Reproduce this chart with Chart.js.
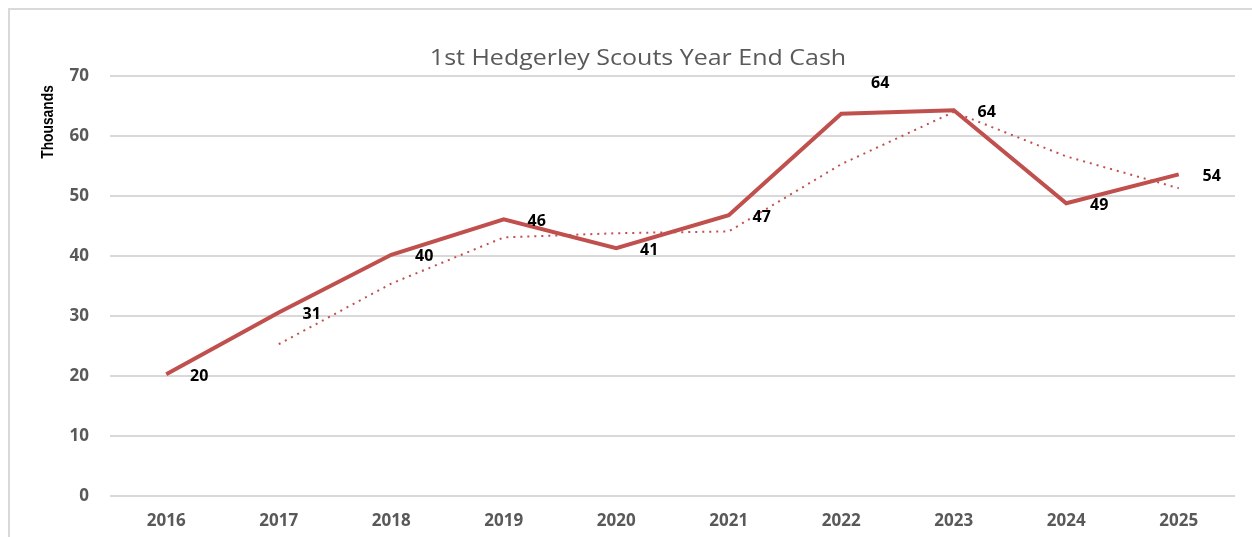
<!DOCTYPE html>
<html>
<head>
<meta charset="utf-8">
<script src="https://cdn.jsdelivr.net/npm/chart.js@4.4.1/dist/chart.umd.min.js"></script>
<style>
body{margin:0;background:#fff;}
#wrap{width:1252px;height:537px;position:relative;}
</style>
</head>
<body>
<div id="wrap"><canvas id="canvas"></canvas></div>
<script>
const years=["2016","2017","2018","2019","2020","2021","2022","2023","2024","2025"];
const cash=[20.3,30.6,40.2,46.1,41.3,46.8,63.7,64.3,48.8,53.6];
const trend=[null,25.3,35.4,43.1,43.8,44.1,55.3,64.0,56.6,51.3];
const yTicks=[0,10,20,30,40,50,60,70];
const chartTitle="1st Hedgerley Scouts Year End Cash";

const lineColor="#C0504D";

// border, title, y axis title and the value labels
const extras={
    id:"extras",
    beforeDraw(chart){
        const c=chart.ctx;
        c.save();
        c.strokeStyle="#d9d9d9";
        c.lineWidth=2;
        c.strokeRect(9,9,1260,560);
        c.fillStyle="#595959";
        c.font="21px 'Open Sans'";
        c.textAlign="center";
        c.textBaseline="middle";
        c.translate(638,59);
        c.scale(1.19,1);
        c.fillText(chartTitle,0,0);
        c.restore();
    },
    afterDatasetsDraw(chart){
        const c=chart.ctx;
        const meta=chart.getDatasetMeta(0);
        c.save();
        c.font="bold 16px 'Open Sans'";
        c.fillStyle="#000";
        c.textBaseline="middle";
        c.textAlign="center";
        meta.data.forEach((pt,i)=>{
            let x=pt.x+33,y=pt.y+2;
            if(i==6){x=pt.x+39;y=pt.y-30;}
            c.fillText(Math.round(cash[i]),x,y);
        });
        c.translate(48,122);
        c.rotate(-Math.PI/2);
        c.font="bold 15px 'Liberation Sans'";
        c.scale(0.92,1.1);
        c.fillText("Thousands",0,0);
        c.restore();
    }
};

new Chart(document.getElementById("canvas"),{
    type:"line",
    data:{
        labels:years,
        datasets:[{
            label:"Cash",
            data:cash,
            borderColor:lineColor,
            borderWidth:4,
            pointRadius:0,
            tension:0
        },{
            label:"Trend",
            data:trend,
            borderColor:lineColor,
            borderWidth:2,
            borderDash:[2,5],
            pointRadius:0,
            tension:0
        }]
    },
    options:{
        responsive:true,
        maintainAspectRatio:false,
        animation:false,
        layout:{padding:{left:0,right:17,top:76,bottom:5}},
        plugins:{
            legend:{display:false},
            tooltip:{enabled:false},
            title:{display:false}
        },
        scales:{
            x:{
                offset:true,
                afterFit(scale){scale.height=36;},
                grid:{display:false,drawTicks:false},
                border:{display:false},
                ticks:{
                    color:"#595959",
                    font:{family:"'Open Sans'",size:17,weight:"bold"},
                    padding:15
                }
            },
            y:{
                min:0,
                max:70,
                afterFit(scale){scale.width=110;},
                afterBuildTicks(scale){scale.ticks=yTicks.map(v=>({value:v}));},
                grid:{color:"#d9d9d9",lineWidth:2,drawTicks:false},
                border:{display:false},
                ticks:{
                    color:"#595959",
                    font:{family:"'Open Sans'",size:17,weight:"bold"},
                    padding:21
                }
            }
        }
    },
    plugins:[extras]
});
</script>
</body>
</html>
